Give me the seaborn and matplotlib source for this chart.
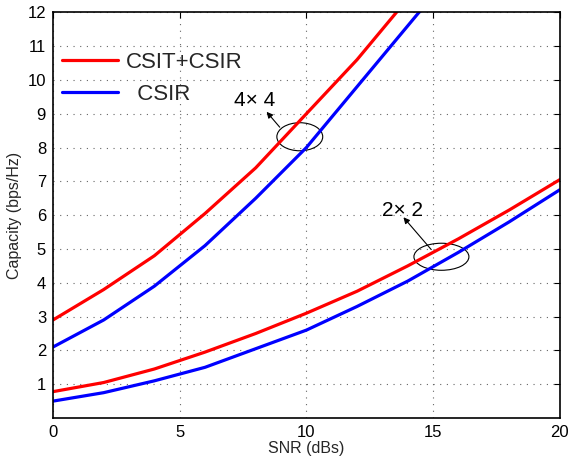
import matplotlib
matplotlib.use("Agg")
import matplotlib.pyplot as plt
import seaborn as sns
import pandas as pd
from matplotlib.patches import Ellipse

snr = [0, 2, 4, 6, 8, 10, 12, 14, 16, 18, 20]
cap_4x4_csit = [2.9, 3.8, 4.8, 6.05, 7.4, 9.0, 10.6, 12.4, 14.2, 16.0, 17.8]
cap_4x4_csir = [2.1, 2.9, 3.9, 5.1, 6.5, 8.0, 9.8, 11.6, 13.4, 15.2, 17.0]
cap_2x2_csit = [0.78, 1.05, 1.45, 1.95, 2.5, 3.1, 3.75, 4.5, 5.3, 6.15, 7.05]
cap_2x2_csir = [0.5, 0.75, 1.1, 1.5, 2.05, 2.6, 3.3, 4.05, 4.9, 5.8, 6.75]

rows = []
for name, scheme, vals in [("4x4", "CSIT+CSIR", cap_4x4_csit),
                           ("4x4", "  CSIR", cap_4x4_csir),
                           ("2x2", "CSIT+CSIR", cap_2x2_csit),
                           ("2x2", "  CSIR", cap_2x2_csir)]:
    for s, v in zip(snr, vals):
        rows.append({"SNR": s, "Capacity": v, "Scheme": scheme, "Config": name})
df = pd.DataFrame(rows)

sns.set_style("white")
plt.rcParams['font.family'] = ['Liberation Sans', 'DejaVu Sans']

fig = plt.figure(figsize=(5.7, 4.57), dpi=100)
ax = fig.add_axes([0.093, 0.0853, 0.889, 0.8877])

sns.lineplot(data=df, x="SNR", y="Capacity", hue="Scheme", units="Config",
             estimator=None, palette={"CSIT+CSIR": (1, 0, 0), "  CSIR": (0, 0, 1)},
             linewidth=2.3, ax=ax, sort=True)

ax.set_xlim(0, 20)
ax.set_ylim(0, 12)
ax.set_xticks([0, 5, 10, 15, 20])
ax.set_yticks(range(1, 13))
ax.tick_params(direction='in', top=True, right=True, length=4, width=0.8,
               labelsize=12, colors='black', pad=5)
ax.grid(True, linestyle=(0, (1, 5)), color='#666666', linewidth=0.8)
for sp in ax.spines.values():
    sp.set_color('black')
    sp.set_linewidth(1.2)

ax.set_xlabel("SNR (dBs)", fontsize=11.5, labelpad=1)
ax.set_ylabel("Capacity (bps/Hz)", fontsize=11.5, labelpad=4)

leg = ax.legend(loc='upper left', bbox_to_anchor=(0.018, 0.903), frameon=False,
                fontsize=16, handlelength=2.5, handletextpad=0.35,
                borderpad=0, borderaxespad=0, labelspacing=0.5)
for h in leg.get_lines():
    h.set_linewidth(2.3)

# annotations
ax.add_patch(Ellipse((9.74, 8.32), 1.81, 0.83, fill=False, edgecolor='black', linewidth=0.8))
ax.annotate("", xy=(8.36, 9.12), xytext=(9.02, 8.54),
            arrowprops=dict(arrowstyle='-|>', color='black', lw=0.8, mutation_scale=9))
ax.text(7.97, 9.39, "4× 4", fontsize=15, ha='center', va='center', color='black')

ax.add_patch(Ellipse((15.33, 4.77), 2.17, 0.8, fill=False, edgecolor='black', linewidth=0.8))
ax.annotate("", xy=(13.76, 6.0), xytext=(15.0, 4.92),
            arrowprops=dict(arrowstyle='-|>', color='black', lw=0.8, mutation_scale=9))
ax.text(13.79, 6.15, "2× 2", fontsize=15, ha='center', va='center', color='black')

fig.savefig("out.png", dpi=100)
